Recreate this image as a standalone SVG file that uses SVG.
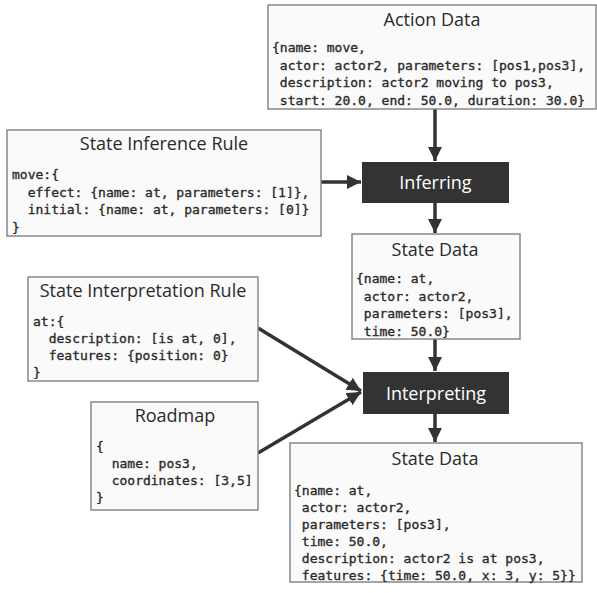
<svg xmlns="http://www.w3.org/2000/svg" width="597" height="593" viewBox="0 0 597 593">
  <style>
    .box { fill: #fafafa; stroke: #888; stroke-width: 1.5; }
    .proc { fill: #333; }
    .title { font-family: "Open Sans", "Noto Sans", sans-serif; font-size: 18px; font-weight: 500; fill: #2a2a2a; text-anchor: middle; }
    .ptitle { font-family: "Open Sans", "Noto Sans", sans-serif; font-size: 18px; font-weight: 500; fill: #fff; text-anchor: middle; }
    .code { font-family: "DejaVu Sans Mono", "Liberation Mono", monospace; font-size: 13px; fill: #2a2a2a; stroke: #2a2a2a; stroke-width: 0.35; white-space: pre; }
    .edge { stroke: #333; stroke-width: 3.5; fill: none; }
  </style>
  <defs>
    <marker id="arrow" viewBox="0 0 10 10" refX="10" refY="5" markerWidth="4" markerHeight="4" orient="auto" markerUnits="strokeWidth">
      <path d="M0,0 L10,5 L0,10 Z" fill="#333"/>
    </marker>
  </defs>

  <!-- connectors -->
  <g id="edges">
    <line class="edge" x1="435" y1="109" x2="435" y2="161" marker-end="url(#arrow)"/>
    <line class="edge" x1="321" y1="182" x2="361" y2="182" marker-end="url(#arrow)"/>
    <line class="edge" x1="435" y1="203" x2="435" y2="233" marker-end="url(#arrow)"/>
    <line class="edge" x1="435" y1="339" x2="435" y2="371" marker-end="url(#arrow)"/>
    <line class="edge" x1="258" y1="328" x2="361" y2="391" marker-end="url(#arrow)"/>
    <line class="edge" x1="258" y1="453" x2="361" y2="392" marker-end="url(#arrow)"/>
    <line class="edge" x1="435" y1="414" x2="435" y2="442" marker-end="url(#arrow)"/>
  </g>

  <g id="action-data">
    <rect class="box" x="268" y="5" width="328" height="104"/>
    <text class="title" x="432" y="26">Action Data</text>
    <text class="code" x="272" y="52">{name: move,</text>
    <text class="code" x="272" y="69.5"> actor: actor2, parameters: [pos1,pos3],</text>
    <text class="code" x="272" y="87"> description: actor2 moving to pos3,</text>
    <text class="code" x="272" y="104.5"> start: 20.0, end: 50.0, duration: 30.0}</text>
  </g>

  <g id="state-inference-rule">
    <rect class="box" x="7" y="130" width="314" height="106"/>
    <text class="title" x="164" y="150">State Inference Rule</text>
    <text class="code" x="12" y="179">move:{</text>
    <text class="code" x="12" y="196.5">  effect: {name: at, parameters: [1]},</text>
    <text class="code" x="12" y="214">  initial: {name: at, parameters: [0]}</text>
    <text class="code" x="12" y="231.5">}</text>
  </g>

  <g id="inferring">
    <rect class="proc" x="362" y="162" width="147" height="41"/>
    <text class="ptitle" x="435.5" y="189">Inferring</text>
  </g>

  <g id="state-data">
    <rect class="box" x="352" y="234" width="168" height="105"/>
    <text class="title" x="435" y="256">State Data</text>
    <text class="code" x="356" y="283">{name: at,</text>
    <text class="code" x="356" y="300.5"> actor: actor2,</text>
    <text class="code" x="356" y="318"> parameters: [pos3],</text>
    <text class="code" x="356" y="335.5"> time: 50.0}</text>
  </g>

  <g id="state-interpretation-rule">
    <rect class="box" x="28" y="277" width="230" height="104"/>
    <text class="title" x="143" y="297">State Interpretation Rule</text>
    <text class="code" x="33" y="326">at:{</text>
    <text class="code" x="33" y="343">  description: [is at, 0],</text>
    <text class="code" x="33" y="360">  features: {position: 0}</text>
    <text class="code" x="33" y="377">}</text>
  </g>

  <g id="interpreting">
    <rect class="proc" x="363" y="372" width="146" height="42"/>
    <text class="ptitle" x="436" y="400">Interpreting</text>
  </g>

  <g id="roadmap">
    <rect class="box" x="91" y="402" width="167" height="108"/>
    <text class="title" x="175" y="422">Roadmap</text>
    <text class="code" x="96" y="451">{</text>
    <text class="code" x="96" y="468">  name: pos3,</text>
    <text class="code" x="96" y="485">  coordinates: [3,5]</text>
    <text class="code" x="96" y="502">}</text>
  </g>

  <g id="state-data-interpreted">
    <rect class="box" x="290" y="443" width="292" height="139"/>
    <text class="title" x="435" y="465">State Data</text>
    <text class="code" x="294" y="495">{name: at,</text>
    <text class="code" x="294" y="512"> actor: actor2,</text>
    <text class="code" x="294" y="529"> parameters: [pos3],</text>
    <text class="code" x="294" y="546"> time: 50.0,</text>
    <text class="code" x="294" y="563"> description: actor2 is at pos3,</text>
    <text class="code" x="294" y="580"> features: {time: 50.0, x: 3, y: 5}}</text>
  </g>
</svg>
